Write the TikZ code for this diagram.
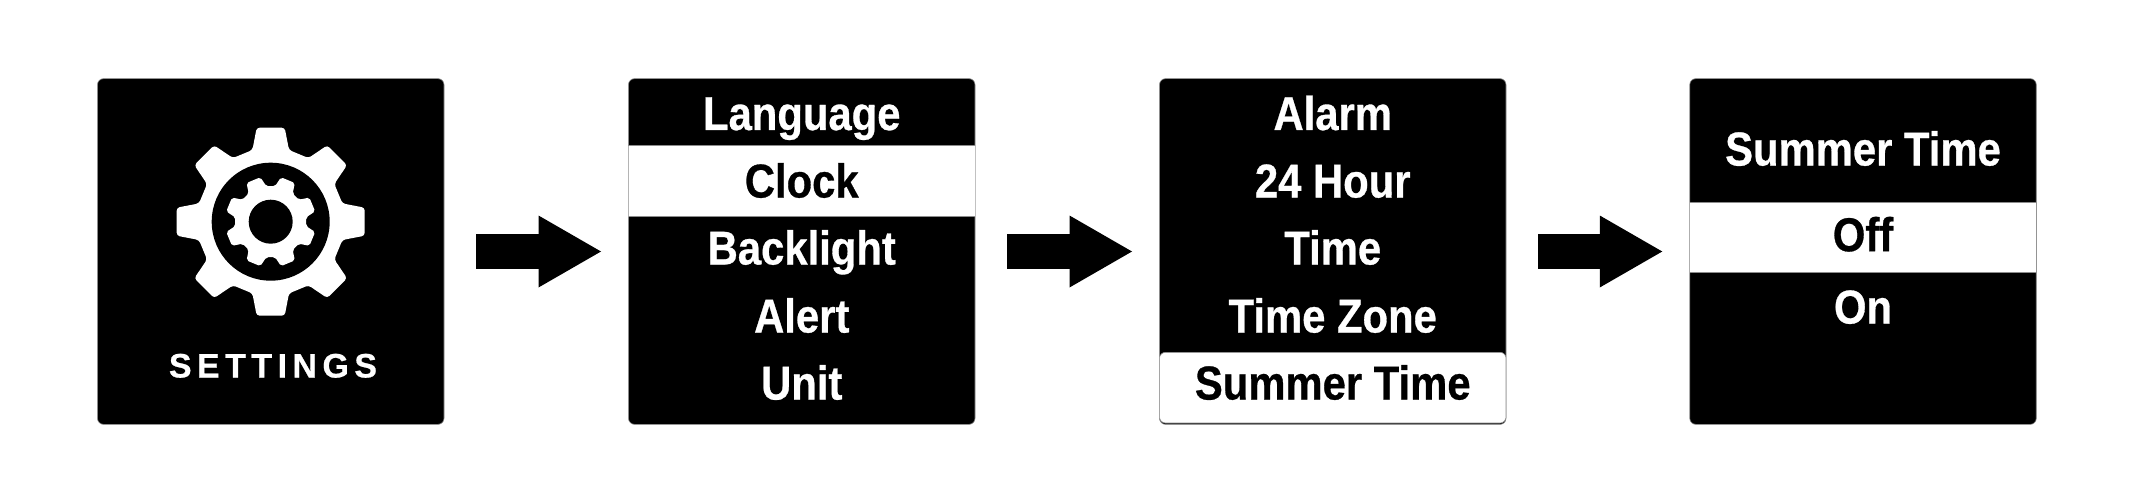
\documentclass[tikz,border=0pt]{standalone}
\usepackage{fontspec}
\setmainfont{Liberation Sans}
\newfontfamily\menufont[FakeStretch=0.88,FakeBold=0.6]{Liberation Sans Bold}
\newfontfamily\capsfont[LetterSpace=16,FakeBold=0.6]{Liberation Sans Bold}
\usetikzlibrary{arrows.meta}
\tikzset{
  panel/.style={rectangle,rounded corners=6pt,fill=black,draw=black!45,line width=0.6pt,
    minimum width=346.5pt,minimum height=345.7pt,inner sep=0pt,outer sep=0pt},
  band/.style={rectangle,fill=white,draw=black!45,line width=0.8pt,minimum width=348pt,inner sep=0pt,outer sep=0pt},
  menuitem/.style={anchor=base,inner sep=0pt,text=white,font=\menufont\fontsize{47.5}{50}\selectfont},
  selitem/.style={menuitem,text=black},
  capsitem/.style={anchor=base,inner sep=0pt,text=white,font=\capsfont\fontsize{34}{36}\selectfont},
  flowarrow/.style={line width=35pt,draw=black,-{Triangle[width=72pt,length=62.5pt,line width=0pt]},
    shorten <=32pt,shorten >=27.5pt}
}
\begin{document}
\begin{tikzpicture}[x=1pt,y=-1pt]
\useasboundingbox (0,0) rectangle (2135,500);
% panels
\node[panel] (p1) at (270.75,251.5) {};
\node[panel] (p2) at (801.75,251.5) {};
\node[panel] (p3) at (1332.75,251.5) {};
\node[panel] (p4) at (1863,251.5) {};
% arrows
\draw[flowarrow] (p1) -- (p2);
\draw[flowarrow] (p2) -- (p3);
\draw[flowarrow] (p3) -- (p4);
% gear
\begin{scope}[shift={(270.7,221.7)}]
  \fill[white,rounded corners=3pt] (0,-94)
    \foreach \a in {0,45,...,315}{
      -- ([rotate=-\a]14,-94) -- ([rotate=-\a]18.3,-71.7)
      -- ([rotate=-\a-45]-18.3,-71.7) -- ([rotate=-\a-45]-14,-94)
    } -- cycle;
  \fill[black] (0,0) circle (59);
  \fill[white,rounded corners=2pt] ([rotate=-22.5]0,-45)
    \foreach \a in {22.5,67.5,...,337.5}{
      -- ([rotate=-\a]7.5,-45) -- ([rotate=-\a]9.5,-34.5)
      -- ([rotate=-\a-45]-9.5,-34.5) -- ([rotate=-\a-45]-7.5,-45)
    } -- cycle;
  \fill[black] (0,0) circle (22);
\end{scope}
\node[capsitem] (settings) at (273,377.5) {SETTINGS};
% panel 2
\begin{scope}
  \clip[rounded corners=6pt] (p2.south west) rectangle (p2.north east);
  \node[band,minimum height=71pt] (b2) at (801.75,181.2) {};
\end{scope}
\node[menuitem] (t21) at (801.75,130) {Language};
\node[selitem]  (t22) at (801.75,197.5) {Clock};
\node[menuitem] (t23) at (801.75,264.5) {Backlight};
\node[menuitem] (t24) at (801.75,332.5) {Alert};
\node[menuitem] (t25) at (801.75,399.5) {Unit};
% panel 3
\begin{scope}
  \clip[rounded corners=6pt] (p3.south west) rectangle (p3.north east);
  \fill[white,draw=black!45,line width=0.6pt,rounded corners=6pt]
    (1159.5,352.3) rectangle (1506,423);
\end{scope}
\node[menuitem] (t31) at (1332.75,130) {Alarm};
\node[menuitem] (t32) at (1332.75,197.5) {24 Hour};
\node[menuitem] (t33) at (1332.75,264.5) {Time};
\node[menuitem] (t34) at (1332.75,332.5) {Time Zone};
\node[selitem]  (t35) at (1332.75,399.5) {Summer Time};
% panel 4
\begin{scope}
  \clip[rounded corners=6pt] (p4.south west) rectangle (p4.north east);
  \node[band,minimum height=70.4pt] (b4) at (1863,237.5) {};
\end{scope}
\node[menuitem] (t41) at (1863,165.5) {Summer Time};
\node[selitem]  (t42) at (1863,251.2) {Off};
\node[menuitem] (t43) at (1863,323.5) {On};
\end{tikzpicture}
\end{document}
